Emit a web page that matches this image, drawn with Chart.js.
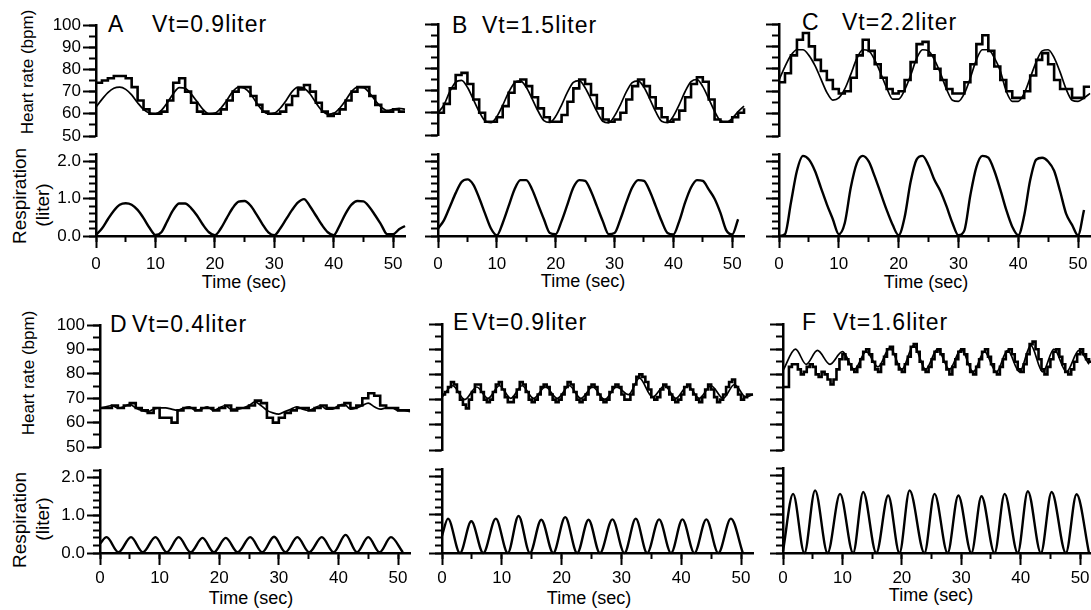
<!DOCTYPE html>
<html><head><meta charset="utf-8">
<script src="https://cdn.jsdelivr.net/npm/chart.js@4.4.0/dist/chart.umd.min.js"></script>
<style>
html,body{margin:0;padding:0;background:#fff;}
body{width:1091px;height:610px;position:relative;overflow:hidden;font-family:"Liberation Sans",Arial,Helvetica,sans-serif;color:#000;}
canvas{position:absolute;}
.t{position:absolute;white-space:nowrap;line-height:1;}
.ttl{font-size:23px;transform:translateY(-50%);}
.vt{letter-spacing:1px;}
.rot{transform:translate(-50%,-50%) rotate(-90deg);}
.ctr{transform:translate(-50%,-50%);font-size:18px;}
.hr{font-size:17px;}
.rs{font-size:19px;}
</style></head><body>

<div class="t ttl" style="left:108px;top:24px">A</div><div class="t ttl vt" style="left:152px;top:24px">Vt=0.9liter</div>
<div class="t ttl" style="left:452px;top:24.5px">B</div><div class="t ttl vt" style="left:482px;top:24.5px">Vt=1.5liter</div>
<div class="t ttl" style="left:802px;top:21.5px">C</div><div class="t ttl vt" style="left:842px;top:21.5px">Vt=2.2liter</div>
<div class="t ttl" style="left:110px;top:323.5px">D</div><div class="t ttl vt" style="left:132px;top:323.5px">Vt=0.4liter</div>
<div class="t ttl" style="left:453px;top:321.5px">E</div><div class="t ttl vt" style="left:472px;top:321.5px">Vt=0.9liter</div>
<div class="t ttl" style="left:802px;top:321.5px">F</div><div class="t ttl vt" style="left:833px;top:321.5px">Vt=1.6liter</div>

<div class="t rot hr" style="left:27px;top:72px">Heart rate (bpm)</div>
<div class="t rot hr" style="left:27.5px;top:373px">Heart rate (bpm)</div>
<div class="t rot rs" style="left:19px;top:196px">Respiration</div>
<div class="t rot rs" style="left:42px;top:205px">(liter)</div>
<div class="t rot rs" style="left:19px;top:520px">Respiration</div>
<div class="t rot rs" style="left:42px;top:519px">(liter)</div>

<div class="t ctr" style="left:244px;top:282px">Time (sec)</div>
<div class="t ctr" style="left:583px;top:281px">Time (sec)</div>
<div class="t ctr" style="left:926px;top:282px">Time (sec)</div>
<div class="t ctr" style="left:251px;top:598px">Time (sec)</div>
<div class="t ctr" style="left:589px;top:598px">Time (sec)</div>
<div class="t ctr" style="left:931px;top:595px">Time (sec)</div>

<script>
// ---------- tick values ----------
const HR_TICKS_MAJOR = [50,60,70,80,90,100];
const HR_TICKS_MINOR = [50,55,60,65,70,75,80,85,90,95,100];
const RESP_TICKS_MAJOR = [0,1,2];
const RESP_TICKS_MINOR = [0,0.2,0.4,0.6,0.8,1.0,1.2,1.4,1.6,1.8,2.0,2.2];
const TIME_TICKS_MAJOR = [0,10,20,30,40,50];
const TIME_TICKS_MINOR = [0,5,10,15,20,25,30,35,40,45,50];

// ---------- time bases (sec) ----------
const TIME = [0,1,2,3,4,5,6,7,8,9,10,11,12,13,14,15,16,17,18,19,20,21,22,23,24,25,26,27,28,29,30,31,32,33,34,35,36,37,38,39,40,41,42,43,44,45,46,47,48,49,50,51,52];
const TIME_HALF = [0,0.5,1,1.5,2,2.5,3,3.5,4,4.5,5,5.5,6,6.5,7,7.5,8,8.5,9,9.5,10,10.5,11,11.5,12,12.5,13,13.5,14,14.5,15,15.5,16,16.5,17,17.5,18,18.5,19,19.5,20,20.5,21,21.5,22,22.5,23,23.5,24,24.5,25,25.5,26,26.5,27,27.5,28,28.5,29,29.5,30,30.5,31,31.5,32,32.5,33,33.5,34,34.5,35,35.5,36,36.5,37,37.5,38,38.5,39,39.5,40,40.5,41,41.5,42,42.5,43,43.5,44,44.5,45,45.5,46,46.5,47,47.5,48,48.5,49,49.5,50,50.5,51,51.5,52];

// ---------- panel A ----------
const HR_A_STEP = [74,75,76,77,77,76,72,66,62,60, 60,61,66,74,76,70,65,61,60,60, 60,62,66,70,72,72,68,64,61,60, 60,61,64,68,71,73,70,65,61,59, 60,62,66,70,72,72,68,64,61,61, 62,61,61];
const HR_A_SMOOTH = [63,66.5,69.5,71.5,72,71,68.5,65,62,60.3, 60,61.5,65,69,71.8,71.5,69,65.5,62,60, 60.3,62.5,66,70,72,71.5,69,65,61.5,60, 60.3,62.5,66,70,72,71.5,69,65,61.5,59.8, 60.2,62.5,66,70,72,71.8,69.5,66,63,61.5, 62,62.5,62];
const RESP_A = [0.03,0.2,0.45,0.68,0.84,0.88,0.84,0.7,0.48,0.22, 0.03,0.1,0.4,0.7,0.87,0.87,0.75,0.55,0.3,0.1, 0.02,0.2,0.48,0.75,0.92,0.94,0.82,0.58,0.32,0.1, 0.02,0.2,0.45,0.7,0.9,0.99,0.8,0.55,0.3,0.1, 0.02,0.28,0.6,0.84,0.94,0.93,0.78,0.55,0.3,0.05, 0.05,0.18,0.27];

// ---------- panel B ----------
const HR_B_STEP = [60,64,71,77,78,73,66,60,56,56, 58,63,69,74,75,72,67,62,58,56, 56,59,65,71,75,73,68,62,57,56, 57,60,66,72,75,72,67,62,58,56, 57,61,67,73,76,74,66,57,56,56, 58,60,62];
const HR_B_SMOOTH = [60,63.5,69.5,73.8,74.6,71.5,66,60.5,56.3,55.6, 58.3,63.4,69.2,73.5,74.4,71.5,66.3,60.8,56.5,55.7, 58.4,63.5,69.3,73.7,74.5,71.3,66.1,60.6,56.2,55.5, 58.6,63.6,69.4,73.6,74.4,71.5,66.2,60.5,56.2,55.6, 58.5,63.7,69.6,74.0,75.0,71.8,66.4,60.7,56.4,55.8, 57.5,60.5,63.0];
const RESP_B = [0.2,0.42,0.78,1.15,1.45,1.52,1.38,1.02,0.6,0.2, 0.02,0.35,0.8,1.25,1.5,1.5,1.25,0.85,0.45,0.08, 0.05,0.4,0.85,1.3,1.5,1.48,1.2,0.8,0.4,0.05, 0.08,0.45,0.9,1.3,1.5,1.48,1.2,0.8,0.4,0.08, 0.04,0.4,0.9,1.3,1.5,1.48,1.25,1.0,0.62,0.15, 0.04,0.45,null];

// ---------- panel C ----------
const HR_C_STEP = [74,78,86,93,96,90,84,79,75,71, 69,70,76,86,93,88,82,76,71,69, 70,75,83,91,92,86,80,75,71,69, 69,74,82,91,95,88,81,75,70,67, 67,70,77,84,87,82,75,71,71,67, 67,72,72];
const HR_C_SMOOTH = [75,81,86,88.5,88.5,86,81.5,75.5,69.5,66, 67,71,77.5,84.5,88.5,88,84,78,71.5,66.5, 66.5,70.5,77,84.5,88.5,88,84,78,71,66, 65.5,69,76,84,88.5,88.5,85,79,70,65.5, 65.5,69,76,83,88,88.5,85,78.5,71,66, 65.5,67,69];
const RESP_C = [0,0.05,0.9,1.75,2.15,2.05,1.75,1.3,0.85,0.45, 0.05,0.35,1.3,1.95,2.15,2.0,1.6,1.15,0.7,0.3, 0.02,0.5,1.45,2.05,2.15,1.9,1.5,1.2,0.8,0.35, 0.02,0.15,1.1,1.85,2.15,2.1,1.75,1.25,0.7,0.25, 0.02,0.55,1.5,2.05,2.1,2.0,1.75,1.2,0.6,0.3, 0.02,0.7,null];

// ---------- panel D ----------
const HR_D_STEP = [66,66,67,66,67,68,66,65,64,66, 62,62,60,65,66,66,65,66,66,65, 66,67,65,66,66,67,69,68,62,60, 62,64,65,66,66,65,66,67,66,66, 67,68,66,67,70,72,71,67,66,66, 65,65,65];
const HR_D_SMOOTH = [66,66.5,67,66,66.5,67.5,66,65,64.5,65.5, 66,66,65.5,65,66,66.5,65,65.5,66.5,65, 66,67,65.5,65.5,66,67,68.5,67,65,64, 63.5,64.5,65.5,66.5,65.5,65,66,67,65.5,65.5, 67,67.5,65.5,66,67,68,66.5,65.5,66,66, 65,65,64.5];
const RESP_D_T = [0,1.1,3.1,5.2,7.2,9.3,11.2,13.2,15.2,17.2,19.1,21.1,23.1,25.2,27.2,29.2,31.1,33.1,35.1,37.2,39.2,41.2,43.1,45.0,46.9,48.8,50.8];
const RESP_D_V = [0.25,0.42,0.02,0.42,0.02,0.42,0.02,0.42,0.02,0.4,0.02,0.4,0.02,0.42,0.02,0.43,0.02,0.42,0.02,0.42,0.02,0.48,0.02,0.42,0.02,0.42,0.02];

// ---------- panel E ----------
const HR_E_STEP = [72,73,75,77,76,73,70,68,66.5,70, 73,76,76,73,70,69,70,73,76,77, 74,71,69,69,71,74,77,76,73,70, 69,70,72,75,76,75,72,70,69,70, 72,75,77,76,73,70,69,70,72,75, 76,75,72,70,69,70,73,75,76,75, 72,70,70,72,76,79,80,79,77,74, 71,70,71,74,76,75,72,70,69,70, 72,75,76,74,72,70,69,71,74,76, 74,71,69,70,72,75,77,78,75,72, 70,71,72,72,72];
const HR_E_SMOOTH_T = [0,1.8,3.8,5.8,7.7,9.6,11.5,13.4,15.3,17.3,19.3,21.3,23.2,25.2,27.2,29.2,31.2,33.0,35.2,37.2,39.1,41.1,43.0,45.0,47.0,48.9,50.8,52];
const HR_E_SMOOTH_V = [71,75.5,70,75,70.5,75.5,70.5,75.5,70.5,75,70.5,75.5,70.5,75,70,75,72,78.5,71,75.5,70.5,75.5,70.5,75.5,70.5,76,71,72];
const RESP_E_T = [0,1.0,3.0,4.9,6.9,9.0,11.0,12.8,14.7,16.6,18.6,20.6,22.6,24.5,26.4,28.5,30.5,32.4,34.3,36.3,38.3,40.2,42.2,44.2,46.2,48.3,50.3];
const RESP_E_V = [0.45,0.9,0,0.83,0,0.9,0,0.97,0,0.87,0,0.94,0,0.87,0,0.88,0,0.9,0,0.88,0,0.88,0,0.88,0,0.9,0];

// ---------- panel F ----------
const HR_F_STEP = [75,75,83,84,84,82,80,81,83,84, 83,80,79,81,80,78,76,78,82,86, 88,86,84,82,81,83,86,89,90,88, 85,82,81,84,87,90,91,88,84,82, 81,84,87,91,92,89,85,82,81,83, 86,89,90,88,85,82,80,83,86,89, 90,88,84,81,80,83,86,89,90,87, 84,81,80,83,86,89,90,88,85,82, 81,84,88,92,93,90,86,82,80,83, 86,89,90,87,84,81,80,82,85,88, 90,88,86,85,85];
const HR_F_SMOOTH_T = [0,2.1,3.9,5.8,7.9,10.0,12.0,14.0,16.0,18.0,20.0,22.0,24.0,26.0,28.0,30.0,32.0,33.9,35.9,37.8,39.8,41.7,43.7,45.6,47.7,49.8,51.5];
const HR_F_SMOOTH_V = [81.5,90,84,89.5,84,89,82,89,83,90.5,82,91.5,82,90,82,90,81,89,81,89.5,81,91.5,81,90,81,89.5,84];
const RESP_F_T = [0,1.7,3.6,5.4,7.5,9.6,11.8,13.5,15.7,17.7,19.6,21.3,23.8,25.5,27.7,29.5,31.7,33.4,35.6,37.3,39.5,41.2,43.4,45.2,47.6,49.4,51.5];
const RESP_F_V = [0.05,1.53,0,1.62,0,1.53,0,1.58,0,1.49,0,1.62,0,1.53,0,1.49,0,1.47,0,1.53,0,1.6,0,1.58,0,1.52,0];

// ---------- layout (page pixels of each plot area) ----------
const GEOM = {
  A:{x0:96,  x1:405,  hrTop:25,  hrBot:136, rTop:154, rBot:236, labels:true,  xPad:6},
  B:{x0:438, x1:744,  hrTop:24,  hrBot:135, rTop:154, rBot:236, labels:false, xPad:6},
  C:{x0:779, x1:1090, hrTop:24,  hrBot:136, rTop:154, rBot:236, labels:false, xPad:6},
  D:{x0:100, x1:410,  hrTop:325, hrBot:447, rTop:470, rBot:553, labels:true,  xPad:3},
  E:{x0:442, x1:753,  hrTop:324, hrBot:450, rTop:469, rBot:553, labels:false, xPad:3},
  F:{x0:783, x1:1092, hrTop:324, hrBot:450, rTop:468, rBot:553, labels:false, xPad:3}
};

const INK = '#000';
const TICK_FONT = {family:'"Liberation Sans", Arial, Helvetica, sans-serif', size:17};
const YW = 50, PAD_T = 14, PAD_R = 8, HR_PAD_B = 14, XH = 50;

function pts(xs, ys){ return xs.map((x,i)=>({x:x, y:ys[i]})); }
function stepDS(xs, ys){ return {data:pts(xs,ys), borderColor:INK, borderWidth:2.6, stepped:true, pointRadius:0, fill:false, clip:false}; }
function smoothDS(xs, ys, w){ return {data:pts(xs,ys), borderColor:INK, borderWidth:w, cubicInterpolationMode:'monotone', pointRadius:0, fill:false, clip:false}; }
function fixW(w){ return s => { s.width = w; }; }
function fixH(h){ return s => { s.height = h; }; }
function setTicks(arr){ return s => { s.ticks = arr.map(v => ({value:v})); }; }

function makeCanvas(left, top, w, h){
  const c = document.createElement('canvas');
  c.width = w; c.height = h;
  c.style.left = left+'px'; c.style.top = top+'px';
  c.style.width = w+'px'; c.style.height = h+'px';
  document.body.appendChild(c);
  return c;
}

function yAxes(min, max, major, minor, showLabels, fmt){
  return {
    y:{type:'linear', min:min, max:max, position:'left', weight:1,
       afterFit:fixW(YW), afterBuildTicks:setTicks(major),
       ticks:{display:showLabels, autoSkip:false, color:INK, font:TICK_FONT, padding:2, callback:fmt},
       grid:{drawOnChartArea:false, drawTicks:true, tickLength:13, tickWidth:2, color:INK, tickColor:INK},
       border:{display:true, color:INK, width:2.5}},
    yMinor:{type:'linear', min:min, max:max, position:'left', weight:0,
       afterFit:fixW(0), afterBuildTicks:setTicks(minor),
       ticks:{display:false, autoSkip:false},
       grid:{drawOnChartArea:false, drawTicks:true, tickLength:7, tickWidth:2, color:INK, tickColor:INK},
       border:{display:false}}
  };
}

function baseOpts(padB, scales){
  return {responsive:false, animation:false, devicePixelRatio:1,
    layout:{padding:{top:PAD_T, right:PAD_R, bottom:padB, left:0}},
    plugins:{legend:{display:false}, tooltip:{enabled:false}},
    elements:{point:{radius:0}},
    scales:scales};
}

function hrChart(p, datasets){
  const w = YW + (p.x1-p.x0) + PAD_R, h = PAD_T + (p.hrBot-p.hrTop) + HR_PAD_B;
  const c = makeCanvas(p.x0-YW, p.hrTop-PAD_T, w, h);
  const scales = Object.assign({x:{type:'linear', min:0, max:52, display:false}},
    yAxes(50, 100, HR_TICKS_MAJOR, HR_TICKS_MINOR, p.labels, v => String(v)));
  new Chart(c, {type:'line', data:{datasets:datasets}, options:baseOpts(HR_PAD_B, scales)});
}

function respChart(p, datasets){
  const w = YW + (p.x1-p.x0) + PAD_R, h = PAD_T + (p.rBot-p.rTop) + XH;
  const c = makeCanvas(p.x0-YW, p.rTop-PAD_T, w, h);
  const scales = Object.assign({
    x:{type:'linear', min:0, max:52, position:'bottom', weight:1,
       afterFit:fixH(XH), afterBuildTicks:setTicks(TIME_TICKS_MAJOR),
       ticks:{color:INK, font:TICK_FONT, padding:p.xPad, maxRotation:0, autoSkip:false, callback:v => String(v)},
       grid:{drawOnChartArea:false, drawTicks:true, tickLength:12, tickWidth:2, color:INK, tickColor:INK},
       border:{display:true, color:INK, width:2.5}},
    xMinor:{type:'linear', min:0, max:52, position:'bottom', weight:0,
       afterFit:fixH(0), afterBuildTicks:setTicks(TIME_TICKS_MINOR),
       ticks:{display:false, autoSkip:false},
       grid:{drawOnChartArea:false, drawTicks:true, tickLength:6, tickWidth:2, color:INK, tickColor:INK},
       border:{display:false}}
  }, yAxes(0, 2.2, RESP_TICKS_MAJOR, RESP_TICKS_MINOR, p.labels, v => Number(v).toFixed(1)));
  new Chart(c, {type:'line', data:{datasets:datasets}, options:baseOpts(0, scales)});
}

hrChart(GEOM.A, [smoothDS(TIME, HR_A_SMOOTH, 1.7), stepDS(TIME, HR_A_STEP)]);
respChart(GEOM.A, [smoothDS(TIME, RESP_A, 2.4)]);
hrChart(GEOM.B, [smoothDS(TIME, HR_B_SMOOTH, 1.7), stepDS(TIME, HR_B_STEP)]);
respChart(GEOM.B, [smoothDS(TIME, RESP_B, 2.4)]);
hrChart(GEOM.C, [smoothDS(TIME, HR_C_SMOOTH, 1.7), stepDS(TIME, HR_C_STEP)]);
respChart(GEOM.C, [smoothDS(TIME, RESP_C, 2.4)]);
hrChart(GEOM.D, [smoothDS(TIME, HR_D_SMOOTH, 1.7), stepDS(TIME, HR_D_STEP)]);
respChart(GEOM.D, [smoothDS(RESP_D_T, RESP_D_V, 2.4)]);
hrChart(GEOM.E, [smoothDS(HR_E_SMOOTH_T, HR_E_SMOOTH_V, 1.7), stepDS(TIME_HALF, HR_E_STEP)]);
respChart(GEOM.E, [smoothDS(RESP_E_T, RESP_E_V, 2.4)]);
hrChart(GEOM.F, [smoothDS(HR_F_SMOOTH_T, HR_F_SMOOTH_V, 1.7), stepDS(TIME_HALF, HR_F_STEP)]);
respChart(GEOM.F, [smoothDS(RESP_F_T, RESP_F_V, 2.4)]);
</script>
</body></html>
